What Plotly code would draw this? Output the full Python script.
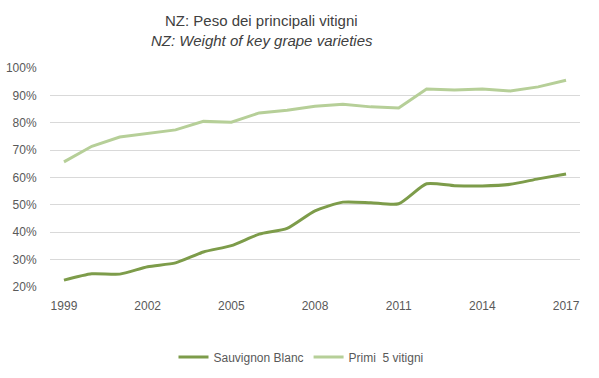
import plotly.graph_objects as go

years = list(range(1999, 2018))
sauvignon_blanc = [22.5, 24.8, 24.7, 27.4, 28.8, 32.8, 35.1, 39.3, 41.4, 47.8, 51.0, 50.8, 50.4,
                   57.7, 57.0, 56.9, 57.5, 59.5, 61.3]
primi_5 = [65.7, 71.4, 74.8, 76.0, 77.4, 80.5, 80.2, 83.6, 84.6, 86.0, 86.8, 85.8, 85.4,
           92.3, 92.0, 92.3, 91.6, 93.1, 95.5]
x_ticks = [1999, 2002, 2005, 2008, 2011, 2014, 2017]
y_ticks = [20, 30, 40, 50, 60, 70, 80, 90, 100]

W, H = 599, 378
ML, MR, MT, MB = 50, 19, 68, 91
pw, ph = W - ML - MR, H - MT - MB


def px_x(v):
    return (v - ML) / pw


def px_y(v):
    return (H - MB - v) / ph


fig = go.Figure()
fig.add_trace(go.Scatter(x=years, y=sauvignon_blanc, name="Sauvignon Blanc", mode="lines",
                         line=dict(color="#7d9c4a", width=3, shape="spline", smoothing=0.6)))
fig.add_trace(go.Scatter(x=years, y=primi_5, name="Primi  5 vitigni", mode="lines",
                         line=dict(color="#b6cf98", width=3)))

title_font = dict(size=15, color="#404040", family="Liberation Sans Narrow, Arial Narrow, sans-serif")
fig.update_layout(
    width=W, height=H,
    margin=dict(l=ML, r=MR, t=MT, b=MB, autoexpand=False),
    paper_bgcolor="white", plot_bgcolor="white",
    font=dict(family="Liberation Sans, Arial, sans-serif", size=12, color="#595959"),
    showlegend=True,
    legend=dict(orientation="h", x=px_x(301), xanchor="center", y=px_y(357), yanchor="middle",
                font=dict(size=12, color="#595959"), traceorder="normal", itemwidth=30),
    annotations=[
        dict(text="NZ: Peso dei principali vitigni", x=px_x(261), y=px_y(20), xref="paper", yref="paper",
             xanchor="center", yanchor="middle", showarrow=False, font=title_font),
        dict(text="<i>NZ: Weight of key grape varieties</i>", x=px_x(262), y=px_y(40), xref="paper",
             yref="paper", xanchor="center", yanchor="middle", showarrow=False, font=title_font),
    ],
)

fig.update_xaxes(range=[1998.5, 2017.5], tickvals=x_ticks, ticktext=[str(v) for v in x_ticks],
                 showgrid=False, zeroline=False, showline=False, ticks="outside", ticklen=8,
                 tickcolor="rgba(0,0,0,0)", tickfont=dict(size=12, color="#595959"))
fig.update_yaxes(range=[20, 100], tickvals=y_ticks, ticktext=[f"{v}%" for v in y_ticks],
                 showgrid=True, gridcolor="#d9d9d9", gridwidth=1, zeroline=False, showline=False,
                 ticks="outside", ticklen=10, tickcolor="rgba(0,0,0,0)",
                 tickfont=dict(size=12, color="#595959"))

fig.write_html("out.html", config={"displayModeBar": False},
               post_script="document.body.style.margin='0';document.body.style.overflow='hidden';")
